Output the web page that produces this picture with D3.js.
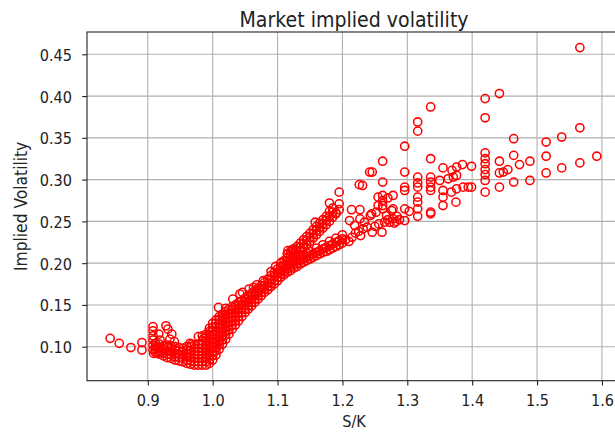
<!DOCTYPE html>
<html>
<head>
<meta charset="utf-8">
<script src="https://cdn.jsdelivr.net/npm/d3@7"></script>
<style>
  body { margin: 0; background: #fff; }
  text { font-family: "DejaVu Sans", sans-serif; fill: #222; }
</style>
</head>
<body>
<svg id="chart" width="615" height="435"></svg>
<script>
// ====== DATA ======
const xTicks = [0.9, 1.0, 1.1, 1.2, 1.3, 1.4, 1.5, 1.6];
const yTicks = [0.10, 0.15, 0.20, 0.25, 0.30, 0.35, 0.40, 0.45];

// sparse left wing (S/K, implied vol)
const leftWing = [
  [0.842,0.110],[0.856,0.104],[0.874,0.099],[0.891,0.105],[0.891,0.096],
  [0.908,0.124],[0.908,0.119],[0.908,0.113],[0.908,0.108],[0.908,0.102],[0.908,0.096],[0.909,0.092],
  [0.917,0.115],[0.919,0.108],[0.914,0.099],[0.916,0.093],
  [0.928,0.125],[0.931,0.121],[0.937,0.115],[0.934,0.109],[0.941,0.106],
  [0.965,0.104],[0.968,0.103],[0.978,0.112],[0.984,0.113],[0.986,0.110]
];

// dense trough, read column by column: [S/K, [vols...]]
const troughCols = [
  [0.912,[0.093,0.097,0.101,0.104]],
  [0.918,[0.091,0.095,0.099,0.103]],
  [0.924,[0.089,0.093,0.097,0.101]],
  [0.930,[0.087,0.091,0.095,0.099,0.102]],
  [0.936,[0.086,0.090,0.094,0.098,0.101]],
  [0.942,[0.084,0.088,0.092,0.096,0.100]],
  [0.948,[0.083,0.087,0.091,0.095,0.099]],
  [0.954,[0.082,0.086,0.090,0.094,0.098]],
  [0.960,[0.080,0.084,0.088,0.092,0.096,0.100]],
  [0.966,[0.079,0.083,0.087,0.091,0.095,0.100]],
  [0.972,[0.078,0.082,0.086,0.090,0.094,0.098,0.102]],
  [0.978,[0.078,0.082,0.086,0.090,0.094,0.098,0.103]],
  [0.984,[0.078,0.082,0.086,0.090,0.094,0.098,0.102,0.107]]
];

// dense rise after the money
const riseCols = [
  [0.990,[0.078,0.082,0.087,0.092,0.097,0.102,0.107,0.111,0.115]],
  [0.995,[0.080,0.085,0.090,0.095,0.100,0.105,0.110,0.114,0.118,0.122]],
  [1.000,[0.084,0.089,0.094,0.099,0.104,0.109,0.114,0.118,0.123,0.128]],
  [1.005,[0.090,0.095,0.100,0.105,0.110,0.115,0.119,0.124,0.128,0.132]],
  [1.010,[0.097,0.102,0.107,0.112,0.117,0.122,0.127,0.132,0.136]],
  [1.015,[0.103,0.108,0.113,0.118,0.123,0.127,0.131,0.135,0.139]],
  [1.020,[0.109,0.114,0.119,0.124,0.129,0.134,0.138,0.142]],
  [1.025,[0.115,0.120,0.125,0.130,0.135,0.140,0.145]],
  [1.030,[0.121,0.126,0.131,0.136,0.140,0.144,0.148]],
  [1.035,[0.126,0.131,0.136,0.141,0.146,0.150]],
  [1.040,[0.131,0.136,0.141,0.145,0.149,0.153]],
  [1.045,[0.136,0.141,0.146,0.151,0.155]],
  [1.050,[0.141,0.145,0.150,0.154,0.158]],
  [1.055,[0.145,0.149,0.153,0.157,0.161]],
  [1.060,[0.149,0.153,0.157,0.161,0.164]],
  [1.065,[0.153,0.157,0.161,0.164,0.167]],
  [1.070,[0.157,0.161,0.164,0.167,0.170]],
  [1.075,[0.161,0.165,0.169,0.173]],
  [1.080,[0.165,0.169,0.173,0.177]],
  [1.085,[0.168,0.172,0.176,0.181]],
  [1.090,[0.172,0.176,0.180,0.185]],
  [1.095,[0.175,0.179,0.184,0.189]],
  [1.100,[0.179,0.183,0.188,0.193]]
];

// loose circles along the top of the rise
const riseEdge = [
  [1.009,0.147],[1.020,0.146],[1.031,0.157],[1.042,0.163],[1.046,0.165],[1.056,0.169],
  [1.063,0.171],[1.068,0.174],[1.078,0.179],[1.090,0.190],[1.097,0.196],[1.106,0.201],[1.116,0.215]
];

// two branches between 1.10 and 1.20
const branchCols = [
  [1.105,[0.183,0.187,0.191,0.196,0.200]],
  [1.110,[0.186,0.190,0.194,0.198,0.203]],
  [1.115,[0.189,0.193,0.197,0.201,0.206,0.211]],
  [1.120,[0.191,0.195,0.199,0.204,0.209,0.214]],
  [1.125,[0.194,0.198,0.202,0.207,0.212,0.217]],
  [1.130,[0.196,0.200,0.205,0.210,0.215,0.220]],
  [1.135,[0.199,0.203,0.208,0.214,0.219,0.224]],
  [1.140,[0.201,0.205,0.210,0.218,0.223,0.228]],
  [1.145,[0.203,0.207,0.212,0.222,0.227,0.232]],
  [1.150,[0.205,0.209,0.214,0.226,0.231,0.236]],
  [1.155,[0.207,0.211,0.230,0.235,0.240]],
  [1.160,[0.209,0.213,0.218,0.234,0.239,0.244]],
  [1.165,[0.211,0.215,0.238,0.243,0.248]],
  [1.170,[0.213,0.217,0.222,0.242,0.247,0.252]],
  [1.175,[0.214,0.219,0.246,0.251,0.256]],
  [1.180,[0.216,0.221,0.226,0.250,0.256,0.262,0.272]],
  [1.185,[0.218,0.223,0.255,0.261,0.266]],
  [1.190,[0.220,0.225,0.230,0.259,0.260]],
  [1.195,[0.222,0.227,0.264,0.271,0.285]],
  [1.200,[0.224,0.229,0.234]]
];

// scattered middle region 1.20 - 1.29
const midPoints = [
  [1.122,0.216],[1.158,0.249],
  [1.214,0.264],[1.227,0.264],[1.226,0.294],[1.231,0.293],[1.242,0.309],[1.246,0.309],
  [1.211,0.251],[1.219,0.245],[1.227,0.253],[1.234,0.249],[1.243,0.257],[1.245,0.259],
  [1.252,0.261],[1.255,0.269],[1.262,0.322],[1.262,0.297],[1.262,0.281],[1.255,0.279],
  [1.262,0.275],[1.262,0.269],[1.262,0.265],[1.270,0.278],[1.268,0.257],[1.276,0.263],
  [1.273,0.249],[1.283,0.250],[1.261,0.237],[1.246,0.237],[1.228,0.233],[1.210,0.226],
  [1.278,0.281],[1.278,0.265],[1.278,0.253],[1.284,0.256],
  [1.205,0.228],[1.215,0.231],[1.220,0.236],[1.225,0.238],[1.232,0.241],[1.238,0.243],
  [1.250,0.244],[1.256,0.247],[1.265,0.249],[1.270,0.252],[1.280,0.248],[1.288,0.252]
];

// far right wing
const farWing = [
  [1.296,0.340],[1.296,0.309],[1.296,0.291],[1.296,0.287],[1.296,0.265],[1.303,0.262],[1.296,0.251],
  [1.316,0.369],[1.316,0.358],[1.316,0.303],[1.316,0.296],[1.316,0.291],[1.316,0.279],[1.316,0.273],
  [1.316,0.265],[1.316,0.256],
  [1.336,0.387],[1.336,0.325],[1.336,0.303],[1.336,0.297],[1.336,0.291],[1.336,0.287],[1.336,0.261],[1.336,0.259],
  [1.355,0.314],[1.350,0.299],[1.355,0.287],[1.355,0.279],[1.355,0.269],[1.363,0.301],[1.369,0.311],
  [1.371,0.303],[1.376,0.315],[1.376,0.305],[1.376,0.289],[1.375,0.273],[1.385,0.318],[1.386,0.291],
  [1.394,0.291],[1.368,0.285],[1.399,0.316],[1.399,0.291],
  [1.420,0.397],[1.442,0.403],[1.420,0.374],[1.420,0.332],[1.420,0.325],[1.420,0.319],[1.420,0.312],
  [1.420,0.306],[1.420,0.299],[1.420,0.285],
  [1.442,0.322],[1.442,0.308],[1.448,0.309],[1.455,0.312],[1.442,0.291],[1.464,0.349],[1.464,0.329],
  [1.473,0.318],[1.489,0.322],[1.464,0.297],[1.489,0.299],
  [1.514,0.345],[1.514,0.328],[1.514,0.308],[1.538,0.351],[1.538,0.314],
  [1.566,0.458],[1.566,0.362],[1.566,0.320],[1.592,0.328]
];

// ====== LAYOUT ======
const svg = d3.select("#chart");
const plotLeft = 87, plotRight = 621, plotTop = 32, plotBottom = 380.7;

const x = d3.scaleLinear().domain([0.8063, 1.6294]).range([plotLeft, plotRight]);
const y = d3.scaleLinear().domain([0.0593, 0.4767]).range([plotBottom, plotTop]);

const fromCols = (cols) => cols.flatMap(([sk, vols]) => vols.map((v) => [sk, v]));
const points = [
  ...leftWing,
  ...fromCols(troughCols),
  ...fromCols(riseCols),
  ...riseEdge,
  ...fromCols(branchCols),
  ...midPoints,
  ...farWing
];

// ====== GRID ======
const grid = svg.append("g").attr("stroke", "#b0b0b0").attr("stroke-width", 1.1);
xTicks.forEach((t) => {
  grid.append("line")
    .attr("x1", x(t)).attr("x2", x(t))
    .attr("y1", plotTop).attr("y2", plotBottom);
});
yTicks.forEach((t) => {
  grid.append("line")
    .attr("x1", plotLeft).attr("x2", plotRight)
    .attr("y1", y(t)).attr("y2", y(t));
});

// ====== SCATTER ======
svg.append("g")
  .selectAll("circle")
  .data(points)
  .join("circle")
  .attr("cx", (d) => x(d[0]))
  .attr("cy", (d) => y(d[1]))
  .attr("r", 4.1)
  .attr("fill", "none")
  .attr("stroke", "#ff0000")
  .attr("stroke-width", 1.55);

// ====== AXES ======
const xAxis = svg.append("g")
  .attr("transform", `translate(0,${plotBottom})`)
  .call(d3.axisBottom(x).tickValues(xTicks).tickFormat(d3.format(".1f")).tickSize(4.8).tickSizeOuter(0));
xAxis.select(".domain").remove();
xAxis.selectAll("line").attr("stroke", "#222").attr("stroke-width", 1.1);
xAxis.selectAll("text")
  .attr("y", null).attr("dy", null)
  .attr("font-size", "14.5px")
  .attr("transform", "translate(0,25) scale(1,1.1)");

const yAxis = svg.append("g")
  .attr("transform", `translate(${plotLeft},0)`)
  .call(d3.axisLeft(y).tickValues(yTicks).tickFormat(d3.format(".2f")).tickSize(4.8).tickSizeOuter(0));
yAxis.select(".domain").remove();
yAxis.selectAll("line").attr("stroke", "#222").attr("stroke-width", 1.1);
yAxis.selectAll("text")
  .attr("x", null).attr("dy", null)
  .attr("font-size", "14.5px")
  .attr("transform", "translate(-15,6) scale(1,1.1)");

// frame
svg.append("rect")
  .attr("x", plotLeft).attr("y", plotTop)
  .attr("width", plotRight - plotLeft).attr("height", plotBottom - plotTop)
  .attr("fill", "none")
  .attr("stroke", "#222")
  .attr("stroke-width", 1.1);

// ====== LABELS ======
svg.append("text")
  .attr("text-anchor", "middle")
  .attr("font-size", "19px")
  .attr("transform", `translate(${(plotLeft + plotRight) / 2},27) scale(1,1.12)`)
  .text("Market implied volatility");

svg.append("text")
  .attr("text-anchor", "middle")
  .attr("font-size", "14.5px")
  .attr("transform", `translate(${(plotLeft + plotRight) / 2},427) scale(1,1.1)`)
  .text("S/K");

svg.append("text")
  .attr("text-anchor", "middle")
  .attr("font-size", "15.5px")
  .attr("transform", `translate(26.5,${(plotTop + plotBottom) / 2}) rotate(-90) scale(1,1.1)`)
  .text("Implied Volatility");
</script>
</body>
</html>
